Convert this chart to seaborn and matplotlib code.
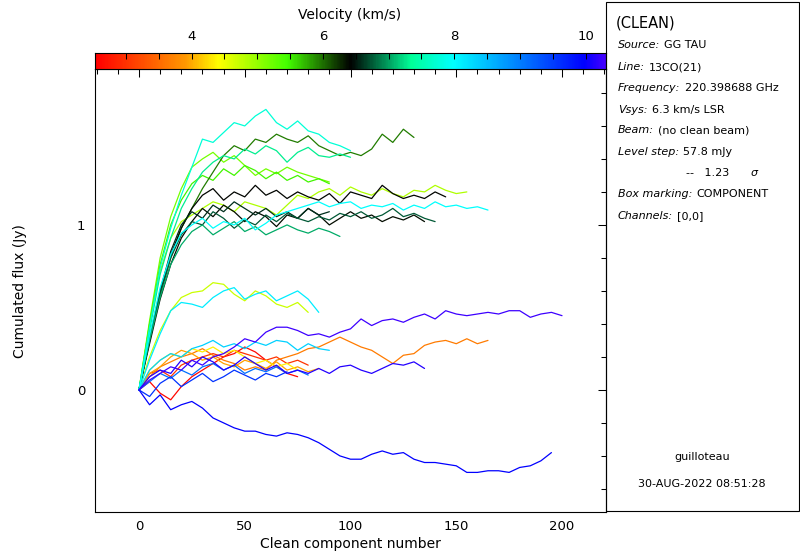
import numpy as np
import pandas as pd
import matplotlib
matplotlib.use("Agg")
import matplotlib.pyplot as plt
import seaborn as sns
from matplotlib.colors import LinearSegmentedColormap, Normalize
from matplotlib.patches import Rectangle
from matplotlib.ticker import MultipleLocator

sns.set_style("white")
plt.rcParams["font.family"] = ["DejaVu Sans"]
plt.rcParams.update({"text.color": "black", "axes.labelcolor": "black",
                     "xtick.color": "black", "ytick.color": "black"})

# ---------------- data ----------------
STEP = 5  # clean components between read-off values

curve_velocity = [
    7.75, 5.95, 7.30, 5.20, 5.50, 4.85, 6.42, 6.38, 6.75, 8.00, 7.05, 6.60,
    4.70, 8.15,
    10.25, 10.00, 3.65, 2.60, 3.00, 4.35, 8.35, 9.10, 9.60, 10.15, 3.95,
]

curve_flux = [
    # upper group
    [0, .38, .74, .98, 1.18, 1.35, 1.52, 1.50, 1.56, 1.62, 1.60, 1.66, 1.70, 1.62,
     1.58, 1.63, 1.57, 1.55, 1.50, 1.48, 1.45],
    [0, .30, .58, .80, .98, 1.10, 1.22, 1.32, 1.42, 1.48, 1.45, 1.52, 1.50, 1.55,
     1.52, 1.50, 1.54, 1.48, 1.45, 1.42, 1.44, 1.42, 1.46, 1.55, 1.50, 1.58, 1.53],
    [0, .36, .70, .92, 1.10, 1.22, 1.32, 1.38, 1.42, 1.40, 1.46, 1.43, 1.48, 1.45,
     1.38, 1.44, 1.47, 1.42, 1.41, 1.43, 1.41],
    [0, .42, .80, 1.05, 1.22, 1.35, 1.40, 1.44, 1.38, 1.42, 1.36, 1.30, 1.34, 1.31,
     1.35, 1.32, 1.30, 1.28, 1.26],
    [0, .40, .76, 1.00, 1.15, 1.25, 1.30, 1.27, 1.34, 1.30, 1.36, 1.33, 1.28, 1.32,
     1.27, 1.30, 1.26, 1.28, 1.25],
    [0, .40, .72, .92, 1.02, 1.06, 1.10, 1.14, 1.12, 1.08, 1.14, 1.12, 1.10, 1.06,
     1.12, 1.18, 1.16, 1.20, 1.22, 1.18, 1.23, 1.20, 1.18, 1.22, 1.19, 1.17, 1.21,
     1.20, 1.24, 1.21, 1.19, 1.20],
    [0, .30, .60, .82, .98, 1.10, 1.18, 1.22, 1.15, 1.20, 1.17, 1.24, 1.18, 1.21,
     1.16, 1.20, 1.17, 1.15, 1.19, 1.13, 1.20, 1.18, 1.16, 1.24, 1.19, 1.16, 1.18,
     1.16, 1.20, 1.17],
    [0, .28, .55, .76, .92, 1.02, 1.10, 1.05, 1.12, 1.08, 1.02, 1.08, 1.05, .99,
     1.06, 1.04, 1.10, 1.06, 1.00, 1.04, 1.08, 1.04, 1.06, 1.02, 1.05, 1.03, 1.06,
     1.02],
    [0, .30, .58, .80, .94, 1.02, 1.00, 1.08, 1.04, .98, 1.03, 1.00, 1.06, 1.02,
     1.07, 1.04, 1.02, 1.05, 1.03, 1.07, 1.05, 1.08, 1.04, 1.06, 1.10, 1.05, 1.07,
     1.04, 1.02],
    [0, .33, .62, .82, .95, 1.00, 1.04, .98, 1.02, 1.00, 1.04, .97, 1.01, 1.06,
     1.08, 1.10, 1.12, 1.14, 1.11, 1.13, 1.14, 1.10, 1.12, 1.11, 1.13, 1.09, 1.12,
     1.10, 1.14, 1.11, 1.12, 1.10, 1.11, 1.09],
    [0, .30, .56, .76, .88, .96, 1.00, .94, .98, 1.02, .96, .99, .94, .97, 1.00,
     .97, .95, .98, .96, .93],
    [0, .32, .60, .84, 1.00, 1.08, 1.04, 1.12, 1.08, 1.14, 1.10, 1.06, 1.10, 1.05,
     1.08, 1.04, 1.10, 1.06, 1.08],
    # middle group
    [0, .20, .36, .48, .56, .59, .60, .65, .64, .58, .54, .60, .57, .52, .50, .53, .47],
    [0, .18, .34, .48, .53, .52, .50, .56, .60, .62, .55, .58, .60, .54, .57, .60,
     .55, .47],
    # lower group
    [0, .06, .10, .14, .12, .18, .15, .20, .22, .26, .31, .29, .35, .38, .38, .36,
     .33, .34, .32, .35, .37, .43, .39, .42, .43, .41, .44, .46, .43, .48, .46, .45,
     .46, .47, .46, .48, .48, .44, .46, .47, .45],
    [0, -.09, -.03, -.12, -.09, -.07, -.11, -.17, -.20, -.23, -.25, -.25, -.27,
     -.28, -.26, -.27, -.29, -.32, -.36, -.40, -.42, -.42, -.39, -.37, -.39, -.38,
     -.42, -.44, -.44, -.45, -.46, -.50, -.50, -.49, -.49, -.50, -.47, -.46, -.43,
     -.38],
    [0, .08, .14, .17, .20, .22, .25, .21, .18, .16, .12, .14, .12, .18, .20, .22,
     .25, .26, .29, .32, .29, .26, .24, .20, .16, .21, .22, .27, .29, .30, .28, .31,
     .28, .30],
    [0, .05, -.02, -.06, .02, .08, .12, .16, .20, .22, .26, .23, .18, .14, .10, .08],
    [0, .10, .12, .08, .15, .18, .20, .22, .20, .24, .22, .20, .18, .20, .16, .18, .15],
    [0, .12, .18, .22, .20, .25, .23, .26, .22, .24, .20, .16, .18, .14, .16, .12],
    [0, .12, .18, .22, .20, .25, .27, .30, .26, .28, .25, .29, .27, .30, .29, .24,
     .28, .25, .24],
    [0, .05, .10, .07, .12, .09, .14, .16, .12, .15, .10, .13, .11, .14, .10, .12, .09],
    [0, -.04, .04, .08, .02, .06, .10, .05, .08, .12, .09, .06, .10, .08, .11],
    [0, .08, .12, .10, .18, .14, .20, .17, .12, .15, .20, .16, .12, .15, .10, .12,
     .10, .13, .10, .14, .15, .12, .10, .13, .16, .15, .17, .13],
    [0, .10, .14, .20, .24, .22, .18, .20, .16, .14, .18, .16, .13, .17, .12, .14,
     .11, .13],
]

vel_ticks = [4, 6, 8, 10]
x_ticks = [0, 50, 100, 150, 200]
y_ticks = [0, 1]

panel_lines = [
    ("Source:", "GG TAU"),
    ("Line:", "13CO(21)"),
    ("Frequency:", "220.398688 GHz"),
    ("Vsys:", "6.3 km/s LSR"),
    ("Beam:", "(no clean beam)"),
    ("Level step:", "57.8 mJy"),
    (None, None),
    ("Box marking:", "COMPONENT"),
    ("Channels:", "[0,0]"),
]

VMIN, VMAX = 2.53, 10.31

# ---------------- colour map (GILDAS-like velocity scale) ----------------
nodes = [(2.53, "#ff0000"), (3.9, "#ff9900"), (4.4, "#ffff00"), (5.45, "#44ff00"),
         (6.42, "#000000"), (7.35, "#00ff99"), (8.0, "#00ffff"), (10.0, "#0000ff"),
         (10.31, "#4400ff")]
cmap = LinearSegmentedColormap.from_list(
    "vel", [((v - VMIN) / (VMAX - VMIN), c) for v, c in nodes])
norm = Normalize(VMIN, VMAX)

rows = []
for i, (v, fl) in enumerate(zip(curve_velocity, curve_flux)):
    for k, f in enumerate(fl):
        rows.append((i, k * STEP, f, v))
df = pd.DataFrame(rows, columns=["id", "comp", "flux", "vel"])

# ---------------- figure ----------------
W, H = 800, 560
fig = plt.figure(figsize=(W / 100, H / 100), dpi=100)
fx = lambda px: px / W
fy = lambda py: 1 - py / H

ax = fig.add_axes([fx(95), fy(512), fx(606) - fx(95), fy(69) - fy(512)])
sns.lineplot(data=df, x="comp", y="flux", hue="vel", units="id", estimator=None,
             palette=cmap, hue_norm=norm, legend=False, linewidth=0.9, sort=False,
             ax=ax)
ax.set_xlim(-20.8, 220.8)
ax.set_ylim(-0.74, 1.945)
ax.set_xticks(x_ticks)
ax.set_yticks(y_ticks)
ax.xaxis.set_minor_locator(MultipleLocator(10))
ax.yaxis.set_minor_locator(MultipleLocator(0.2))
ax.tick_params(which="both", direction="in", top=True, right=True,
               labeltop=False, labelright=False, width=0.75, color="black",
               labelsize=9.5, labelcolor="black")
ax.tick_params(which="major", length=6)
ax.tick_params(which="minor", length=3.5)
ax.tick_params(axis="x", pad=6)
ax.tick_params(axis="y", pad=7)
ax.set_xlabel("")
ax.set_ylabel("")
for s in ax.spines.values():
    s.set_visible(True)
    s.set_color("black")
    s.set_linewidth(0.8)

fig.text(fx(350), fy(544), "Clean component number", ha="center", va="center",
         fontsize=10)
fig.text(fx(20), fy(291), "Cumulated flux (Jy)", ha="center", va="center",
         rotation=90, fontsize=10)

# colour bar
cax = fig.add_axes([fx(95), fy(69), fx(606) - fx(95), fy(53) - fy(69)])
grad = np.linspace(VMIN, VMAX, 600)[None, :]
cax.imshow(grad, cmap=cmap, norm=norm, aspect="auto",
           extent=(VMIN, VMAX, 0, 1), interpolation="bilinear")
cax.set_xlim(VMIN, VMAX)
cax.set_ylim(0, 1)
cax.set_yticks([])
cax.xaxis.tick_top()
cax.set_xticks(vel_ticks)
cax.xaxis.set_minor_locator(MultipleLocator(0.5))
cax.tick_params(which="both", direction="in", length=4, width=0.75,
                labelsize=9.5, pad=7, bottom=False, top=True, color="black",
                labelcolor="black")
for s in cax.spines.values():
    s.set_visible(True)
    s.set_color("black")
    s.set_linewidth(0.8)
fig.text(fx(350), fy(15), "Velocity (km/s)", ha="center", va="center",
         fontsize=10)

# information panel
fig.add_artist(Rectangle((fx(606), fy(511)), fx(799) - fx(606), fy(1.5) - fy(511),
                         transform=fig.transFigure, fill=False, ec="black",
                         lw=0.8))
fig.text(fx(616), fy(23), "(CLEAN)", ha="left", va="center", fontsize=10.5)
line_y = [45, 67, 88, 110, 130, 152, 173, 194, 216]
for (key, val), py in zip(panel_lines, line_y):
    if key is None:
        fig.text(fx(686), fy(py), "--   1.23", ha="left", va="center", fontsize=8)
        fig.text(fx(751), fy(py), "σ", ha="left", va="center", fontsize=8,
                 style="italic")
        continue
    t = fig.text(fx(618), fy(py), key, ha="left", va="center", fontsize=8,
                 style="italic")
    ax.annotate(val, xy=(1, 0), xycoords=t, xytext=(3, 0),
                textcoords="offset points", ha="left", va="bottom", fontsize=8,
                color="black", annotation_clip=False)
fig.text(fx(702), fy(457), "guilloteau", ha="center", va="center", fontsize=8)
fig.text(fx(702), fy(484), "30-AUG-2022 08:51:28", ha="center", va="center",
         fontsize=8)

fig.savefig("out.png", dpi=100)
